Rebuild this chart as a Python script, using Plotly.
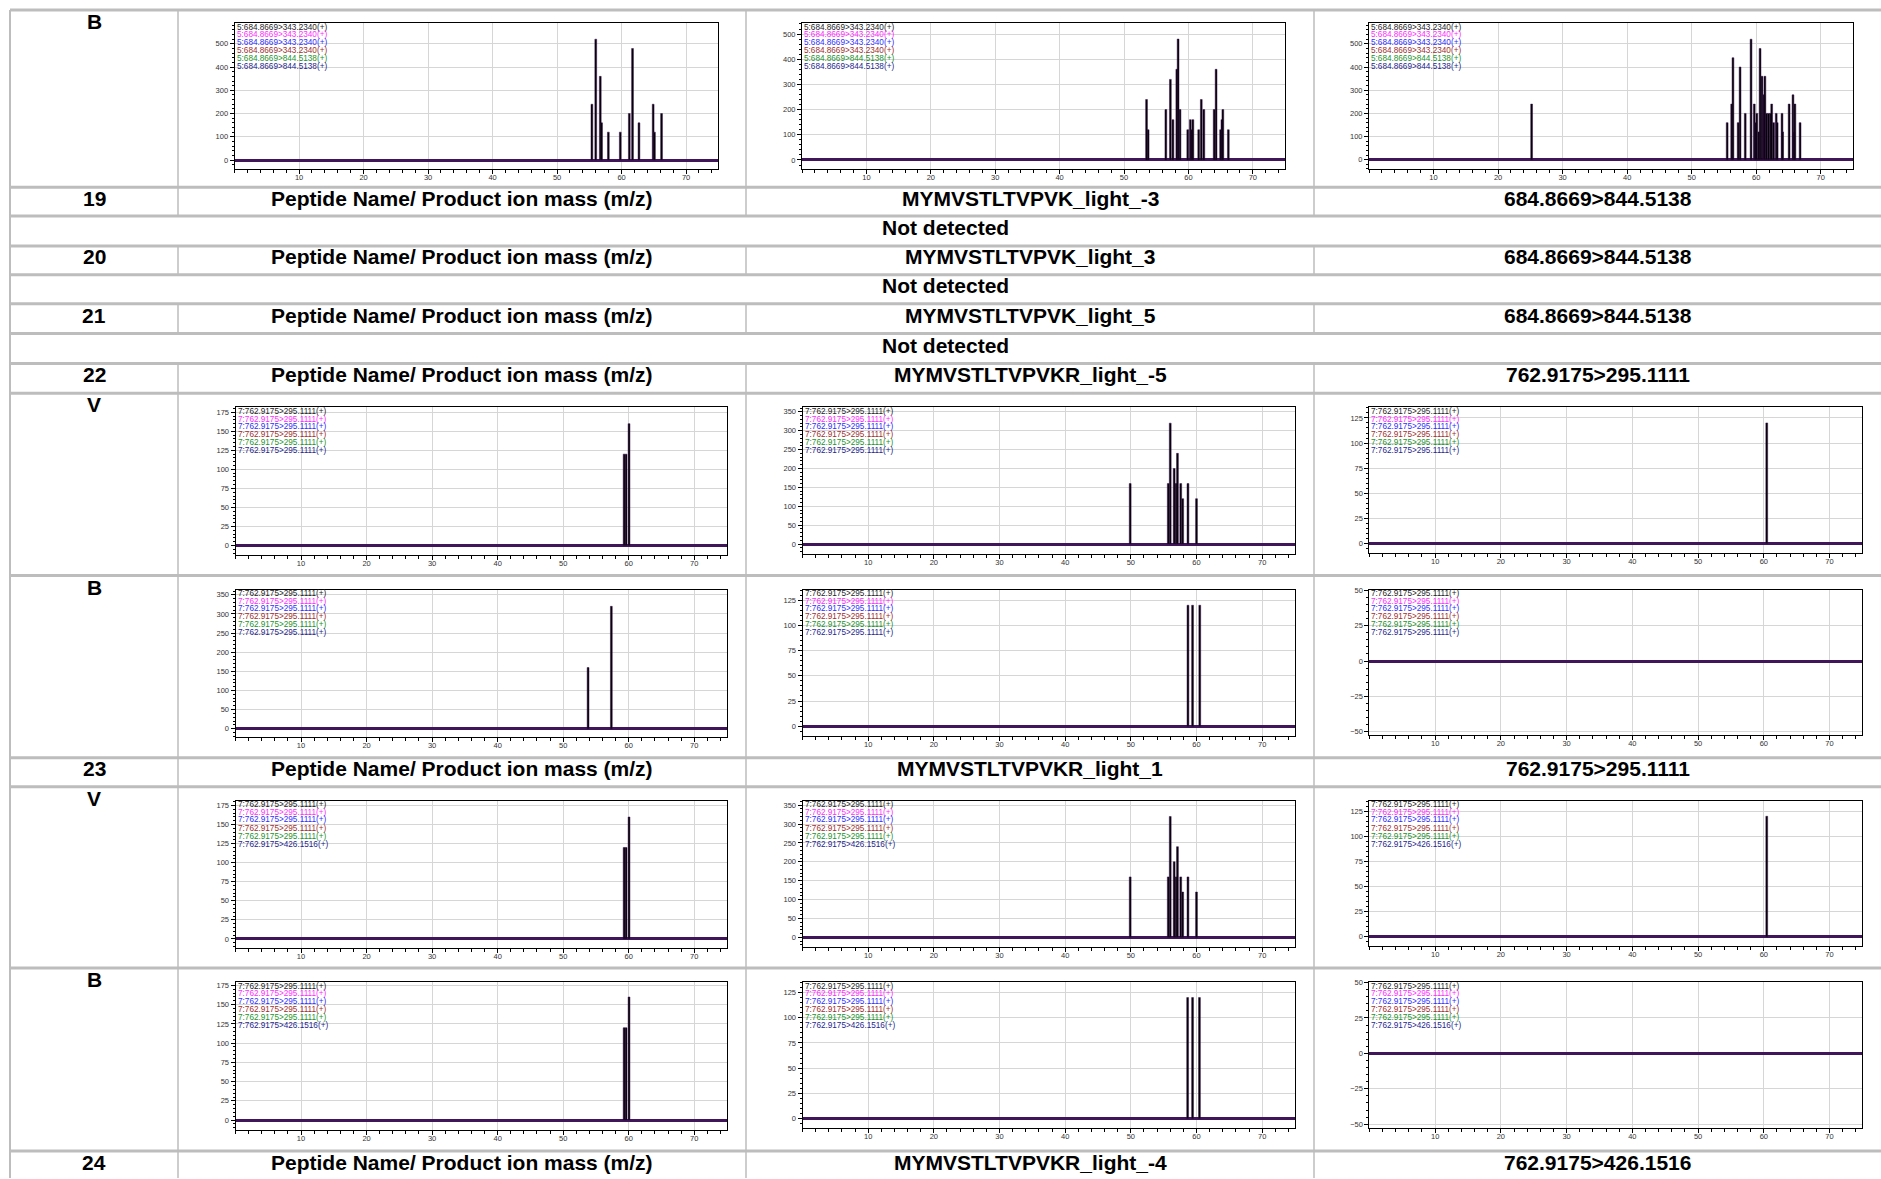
import plotly.graph_objects as go

W, H = 1881, 1179
FONT = "Liberation Sans, Arial, sans-serif"

# ---------------- table text ----------------
row_numbers = ["19", "20", "21", "22", "23", "24"]
header_title = "Peptide Name/ Product ion mass (m/z)"
peptide_names = [
    "MYMVSTLTVPVK_light_-3",
    "MYMVSTLTVPVK_light_3",
    "MYMVSTLTVPVK_light_5",
    "MYMVSTLTVPVKR_light_-5",
    "MYMVSTLTVPVKR_light_1",
    "MYMVSTLTVPVKR_light_-4",
]
transitions = [
    "684.8669>844.5138",
    "684.8669>844.5138",
    "684.8669>844.5138",
    "762.9175>295.1111",
    "762.9175>295.1111",
    "762.9175>426.1516",
]
not_detected = "Not detected"
sample_types = ["B", "V", "B", "V", "B"]

# ---------------- MRM channel labels ----------------
channels_684 = [
    "5:684.8669>343.2340(+)",
    "5:684.8669>343.2340(+)",
    "5:684.8669>343.2340(+)",
    "5:684.8669>343.2340(+)",
    "5:684.8669>844.5138(+)",
    "5:684.8669>844.5138(+)",
]
channels_762_295 = [
    "7:762.9175>295.1111(+)",
    "7:762.9175>295.1111(+)",
    "7:762.9175>295.1111(+)",
    "7:762.9175>295.1111(+)",
    "7:762.9175>295.1111(+)",
    "7:762.9175>295.1111(+)",
]
channels_762_426 = [
    "7:762.9175>295.1111(+)",
    "7:762.9175>295.1111(+)",
    "7:762.9175>295.1111(+)",
    "7:762.9175>295.1111(+)",
    "7:762.9175>295.1111(+)",
    "7:762.9175>426.1516(+)",
]
channel_colors = ["#1e1e1e", "#ff2cff", "#2e2eff", "#a02e2e", "#22932a", "#262690"]

# ---------------- peak tables: retention time (min) / intensity ----------------
# blank injections, peptide 18 (three replicates)
b18_r1_rt = [55.4, 56.0, 56.7, 56.9, 57.95, 59.8, 61.2, 61.7, 62.7, 64.9, 65.1, 66.2]
b18_r1_int = [240, 520, 360, 160, 120, 120, 200, 480, 160, 240, 120, 200]
b18_r2_rt = [53.5, 53.75, 56.5, 57.2, 57.6, 58.2, 58.4, 58.7, 59.9, 60.3, 60.45, 60.7,
             61.6, 62.0, 62.4, 64.0, 64.3, 65.0, 65.2, 65.35, 66.2]
b18_r2_int = [240, 120, 200, 320, 160, 360, 480, 200, 120, 160, 120, 160,
              120, 240, 200, 200, 360, 120, 160, 200, 120]
b18_r3_rt = [25.2, 55.5, 56.2, 56.4, 57.2, 57.5, 58.3, 59.2, 59.7, 59.9, 60.1, 60.4,
             60.6, 60.9, 61.2, 61.35, 61.6, 61.9, 62.2, 62.4, 62.7, 63.1, 63.25, 64.0,
             64.1, 65.1, 65.7, 65.85, 66.0, 66.8]
b18_r3_int = [240, 160, 240, 440, 160, 400, 200, 520, 240, 160, 200, 120,
              480, 360, 280, 360, 200, 200, 200, 240, 160, 200, 160, 200,
              120, 240, 280, 120, 240, 160]

# peptide 22: spiked (V) and blank (B) injections
v22_r1_rt = [59.3, 59.6, 60.05]
v22_r1_int = [120, 120, 160]
v22_r2_rt = [49.9, 55.7, 56.0, 56.6, 56.9, 57.1, 57.6, 57.9, 58.7, 60.0]
v22_r2_int = [160, 160, 320, 200, 160, 240, 160, 120, 160, 120]
v22_r3_rt = [60.45]
v22_r3_int = [120]
b22_r1_rt = [53.8, 57.35]
b22_r1_int = [160, 320]
b22_r2_rt = [58.7, 59.4, 60.5]
b22_r2_int = [120, 120, 120]
b22_r3_rt = []
b22_r3_int = []

# peptide 23: spiked (V) and blank (B) injections
v23_r1_rt = [59.3, 59.6, 60.05]
v23_r1_int = [120, 120, 160]
v23_r2_rt = [49.9, 55.7, 56.0, 56.6, 56.9, 57.1, 57.6, 57.9, 58.7, 60.0]
v23_r2_int = [160, 160, 320, 200, 160, 240, 160, 120, 160, 120]
v23_r3_rt = [60.45]
v23_r3_int = [120]
b23_r1_rt = [59.3, 59.6, 60.05]
b23_r1_int = [120, 120, 160]
b23_r2_rt = [58.65, 59.4, 60.45]
b23_r2_int = [120, 120, 120]
b23_r3_rt = []
b23_r3_int = []

X_TICKS = [10, 20, 30, 40, 50, 60, 70]

# ---------------- table geometry (pixels) ----------------
COL_EDGES = [10, 178, 746, 1314, 1881]
H_LINES = [6, 184, 213, 243, 272, 301, 331, 361, 391, 574, 757, 786, 968, 1152]
HEADER_ROWS = [(184, 213), (243, 272), (301, 331), (361, 391), (757, 786), (1152, 1181)]
ND_ROWS = [(213, 243), (272, 301), (331, 361)]
CHART_ROW_TOPS = [6, 391, 574, 786, 968]
V_SEGMENTS = [(6, 213), (243, 272), (301, 331), (361, 1179)]
TEXT_LIFT = 3.5

# plot rectangles inside the chart cells: (left, right, top offset, bottom offset)
FIRST_ROW_RECTS = [(234.6, 718.3, 19.3, 165.7), (802.0, 1285.0, 19.3, 166.0),
                   (1369.0, 1853.0, 19.3, 165.7)]
OTHER_ROW_RECTS = [(235.5, 727.0, 14.0, 162.5), (802.5, 1295.0, 14.0, 161.0),
                   (1369.4, 1862.4, 14.0, 160.5)]
LEGEND_OFFSETS = [4.3, 11.8, 19.4, 27.6, 35.6, 43.6]

# (chart row, column, rt, intensity, channels, y-range, y dtick, y minor dtick)
panels = [
    (0, 0, b18_r1_rt, b18_r1_int, channels_684, [-38.6, 588.7], 100, 20),
    (0, 1, b18_r2_rt, b18_r2_int, channels_684, [-37.0, 543.0], 100, 20),
    (0, 2, b18_r3_rt, b18_r3_int, channels_684, [-40.0, 589.0], 100, 20),
    (1, 0, v22_r1_rt, v22_r1_int, channels_762_295, [-12.6, 181.5], 25, 5),
    (1, 1, v22_r2_rt, v22_r2_int, channels_762_295, [-25.5, 362.0], 50, 10),
    (1, 2, v22_r3_rt, v22_r3_int, channels_762_295, [-9.6, 135.6], 25, 5),
    (2, 0, b22_r1_rt, b22_r1_int, channels_762_295, [-22.6, 364.0], 50, 10),
    (2, 1, b22_r2_rt, b22_r2_int, channels_762_295, [-9.6, 135.6], 25, 5),
    (2, 2, b22_r3_rt, b22_r3_int, channels_762_295, [-52.5, 50.5], 25, 5),
    (3, 0, v23_r1_rt, v23_r1_int, channels_762_426, [-12.6, 181.5], 25, 5),
    (3, 1, v23_r2_rt, v23_r2_int, channels_762_426, [-25.5, 362.0], 50, 10),
    (3, 2, v23_r3_rt, v23_r3_int, channels_762_426, [-9.6, 135.6], 25, 5),
    (4, 0, b23_r1_rt, b23_r1_int, channels_762_426, [-12.5, 179.7], 25, 5),
    (4, 1, b23_r2_rt, b23_r2_int, channels_762_426, [-9.6, 135.6], 25, 5),
    (4, 2, b23_r3_rt, b23_r3_int, channels_762_426, [-52.5, 50.5], 25, 5),
]


def px(x):
    return x / W


def py(y):
    return 1 - y / H


fig = go.Figure()
layout_axes = {}
annotations = []
shapes = []

tick_font = dict(family=FONT, size=7.5, color="#333333")

for i, (row, col, rt, inten, chans, yr, ydt, ymin) in enumerate(panels, start=1):
    xa = "x" if i == 1 else f"x{i}"
    ya = "y" if i == 1 else f"y{i}"
    rect = FIRST_ROW_RECTS[col] if row == 0 else OTHER_ROW_RECTS[col]
    left, right, t_off, b_off = rect
    top = CHART_ROW_TOPS[row] + t_off if row > 0 else t_off
    bottom = CHART_ROW_TOPS[row] + b_off if row > 0 else b_off

    fig.add_trace(go.Bar(
        x=rt, y=inten, xaxis=xa, yaxis=ya, width=0.28,
        marker=dict(color="#000000", line=dict(color="#3a1150", width=0.5)),
        showlegend=False,
    ))

    layout_axes["xaxis" if i == 1 else f"xaxis{i}"] = dict(
        domain=[px(left), px(right)], anchor=ya, range=[0, 75],
        tickmode="array", tickvals=X_TICKS,
        ticks="outside", ticklen=4, tickwidth=1, tickcolor="#000000",
        ticklabelstandoff=-3,
        minor=dict(tickmode="linear", tick0=0, dtick=2, ticks="outside",
                   ticklen=3, tickcolor="#000000", showgrid=False),
        showgrid=True, gridcolor="#d6d6d6", gridwidth=1,
        showline=True, linecolor="#000000", linewidth=1, mirror=True,
        zeroline=False, tickfont=tick_font, fixedrange=True,
    )
    layout_axes["yaxis" if i == 1 else f"yaxis{i}"] = dict(
        domain=[py(bottom), py(top)], anchor=xa, range=yr,
        tickmode="linear", tick0=0, dtick=ydt,
        ticks="outside", ticklen=4, tickwidth=1, tickcolor="#000000",
        minor=dict(tickmode="linear", tick0=0, dtick=ymin, ticks="outside",
                   ticklen=2, tickcolor="#000000", showgrid=False),
        showgrid=True, gridcolor="#d6d6d6", gridwidth=1,
        showline=True, linecolor="#000000", linewidth=1, mirror=True,
        zeroline=True, zerolinecolor="#40155a", zerolinewidth=3,
        tickfont=tick_font, fixedrange=True,
    )

    for k, (label, color) in enumerate(zip(chans, channel_colors)):
        annotations.append(dict(
            x=px(left), y=py(top + LEGEND_OFFSETS[k]), xref="paper", yref="paper",
            xanchor="left", yanchor="middle", text=label, showarrow=False,
            font=dict(family=FONT, size=8.2, color=color),
        ))

# ---------------- table grid ----------------
grid_color = "#bdbdbd"
for y in H_LINES:
    shapes.append(dict(type="line", xref="paper", yref="paper",
                       x0=px(COL_EDGES[0]), x1=1, y0=py(y), y1=py(y),
                       line=dict(color=grid_color, width=3)))
shapes.append(dict(type="line", xref="paper", yref="paper",
                   x0=px(COL_EDGES[0]), x1=px(COL_EDGES[0]), y0=py(H_LINES[0]), y1=0,
                   line=dict(color=grid_color, width=2)))
for x in COL_EDGES[1:4]:
    for y0, y1 in V_SEGMENTS:
        shapes.append(dict(type="line", xref="paper", yref="paper",
                           x0=px(x), x1=px(x), y0=py(y0), y1=py(y1),
                           line=dict(color=grid_color, width=1.5)))

bold = dict(family=FONT, size=21, color="#000000", weight="bold")


def cell_text(text, x, y):
    annotations.append(dict(x=px(x), y=py(y - TEXT_LIFT), xref="paper", yref="paper",
                            xanchor="center", yanchor="middle", text=text,
                            showarrow=False, font=bold))


col_centers = [(COL_EDGES[j] + COL_EDGES[j + 1]) / 2 for j in range(4)]
for (t, b), num, pep, tr in zip(HEADER_ROWS, row_numbers, peptide_names, transitions):
    yc = (t + b) / 2
    cell_text(num, col_centers[0], yc)
    cell_text(header_title, col_centers[1], yc)
    cell_text(pep, col_centers[2], yc)
    cell_text(tr, col_centers[3], yc)

for t, b in ND_ROWS:
    cell_text(not_detected, (COL_EDGES[0] + COL_EDGES[4]) / 2, (t + b) / 2)

for top, s in zip(CHART_ROW_TOPS, sample_types):
    cell_text(s, col_centers[0], top + 15)

fig.update_layout(
    width=W, height=H, margin=dict(l=0, r=0, t=0, b=0),
    paper_bgcolor="#ffffff", plot_bgcolor="#ffffff",
    barmode="overlay", showlegend=False,
    annotations=annotations, shapes=shapes,
    **layout_axes,
)

fig.write_html("out.html", config={"displayModeBar": False})
